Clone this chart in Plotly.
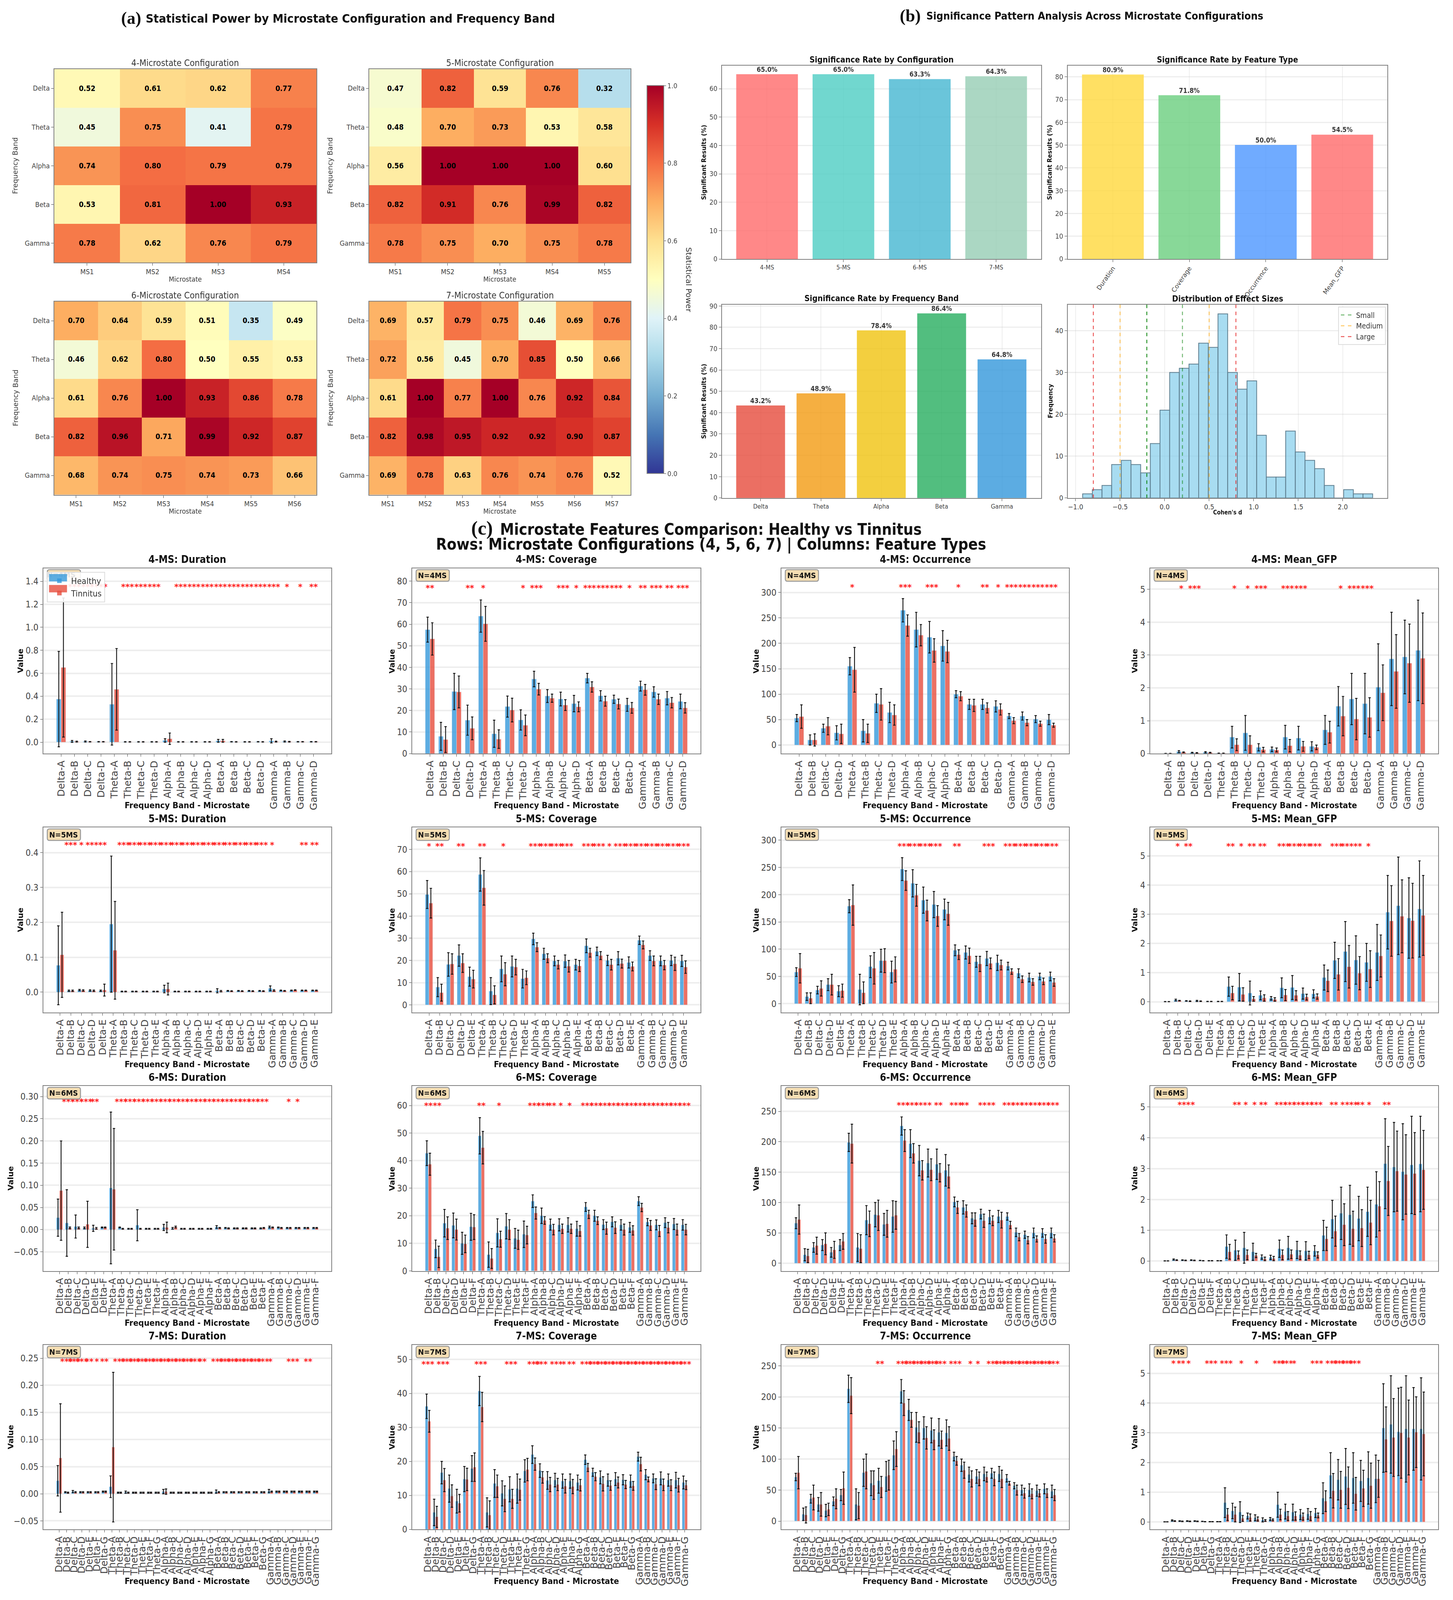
import plotly.graph_objects as go

W, H = 3719, 4398
BANDS = ["Delta", "Theta", "Alpha", "Beta", "Gamma"]
LETTERS = "ABCDEFG"

# ---------- (a) heatmaps ----------
power4 = [[.52,.61,.62,.77],[.45,.75,.41,.79],[.74,.80,.79,.79],[.53,.81,1.00,.93],[.78,.62,.76,.79]]
power5 = [[.47,.82,.59,.76,.32],[.48,.70,.73,.53,.58],[.56,1.00,1.00,1.00,.60],[.82,.91,.76,.99,.82],[.78,.75,.70,.75,.78]]
power6 = [[.70,.64,.59,.51,.35,.49],[.46,.62,.80,.50,.55,.53],[.61,.76,1.00,.93,.86,.78],[.82,.96,.71,.99,.92,.87],[.68,.74,.75,.74,.73,.66]]
power7 = [[.69,.57,.79,.75,.46,.69,.76],[.72,.56,.45,.70,.85,.50,.66],[.61,1.00,.77,1.00,.76,.92,.84],[.82,.98,.95,.92,.92,.90,.87],[.69,.78,.63,.76,.74,.76,.52]]

# ---------- (b) bars ----------
config_names = ["4-MS","5-MS","6-MS","7-MS"]
config_rates = [65.0,65.0,63.3,64.3]
feature_names = ["Duration","Coverage","Occurrence","Mean_GFP"]
feature_rates = [80.9,71.8,50.0,54.5]
band_rates = [43.2,48.9,78.4,86.4,64.8]
effect_bin_start = -0.92
effect_bin_width = 0.1085
effect_counts = [1,2,3,8,9,8,6,13,21,30,31,32,37,36,44,30,26,28,15,5,5,16,11,9,7,3,0,2,1,1]

# ---------- (c) 4-MS ----------
dur4_h = [.375,.007,.006,.004,.33,.003,.003,.003,.015,.003,.003,.003,.012,.004,.003,.004,.012,.006,.004,.004]
dur4_t = [.65,.005,.004,.004,.46,.003,.003,.003,.03,.003,.003,.003,.012,.003,.003,.003,.005,.004,.004,.004]
dur4_he = [.415,.008,.005,.002,.355,.002,.002,.002,.015,.002,.002,.002,.012,.002,.002,.002,.018,.005,.002,.002]
dur4_te = [.605,.004,.002,.002,.355,.002,.002,.002,.05,.002,.002,.002,.012,.002,.002,.002,.004,.003,.002,.002]
dur4_sig = [0,3,3,3,0,3,3,3,0,3,3,3,3,3,3,3,3,1,1,2]
cov4_h = [57.5,8,28.8,15.5,63.8,9.2,21.8,15.6,34.6,26.7,25.3,23.2,35,26.8,25.2,22.6,31.3,28.6,25.7,24.2]
cov4_t = [53.2,6.5,28.6,11.7,60.2,6.7,20.2,13.1,29.9,25.7,22.5,21.7,30.9,24.3,23,21.2,29.6,25.2,23.6,21.2]
cov4_he = [5.8,6.5,8.4,7,7.5,6.3,4.9,4.7,3.6,3,3.2,3.8,2.2,2.4,1.9,3,2.3,2.4,3.1,3.4]
cov4_te = [7.5,6,7.4,5.3,8.1,4.3,5.5,4.8,2.7,1.9,2.5,2.3,2.4,2.3,2.3,2.5,2.5,2.4,2.4,2.4]
cov4_sig = [2,0,0,2,1,0,0,1,3,0,3,1,3,3,3,1,2,3,2,3]
occ4_h = [53,10,33,24,155,28,82,64,265,227,212,195,100,80,80,76,57,57,51,50]
occ4_t = [56,10,37,22,148,23,80,59,235,216,186,184,96,78,73,70,48,44,42,39]
occ4_he = [7,10,8,14,17,22,18,20,23,34,31,30,7,10,10,11,5,8,7,10]
occ4_te = [23,12,17,19,44,18,31,20,21,21,23,22,9,12,10,11,6,6,5,4]
occ4_sig = [0,0,0,0,1,0,0,0,3,0,3,0,1,0,2,1,3,3,3,3]
gfp4_h = [.005,.06,.03,.04,.01,.5,.63,.19,.13,.5,.47,.22,.72,1.44,1.66,1.52,2.02,2.88,2.94,3.14]
gfp4_t = [.005,.04,.02,.03,.01,.27,.27,.12,.11,.24,.22,.19,.65,1.14,1.05,1.1,1.85,2.5,2.75,2.9]
gfp4_he = [.003,.03,.01,.02,.005,.33,.53,.11,.07,.36,.36,.14,.44,.6,.78,.92,1.32,1.42,1.12,1.53]
gfp4_te = [.003,.01,.01,.01,.005,.18,.27,.07,.06,.19,.15,.07,.33,.6,.63,.6,.85,1.12,1.19,1.38]
gfp4_sig = [0,1,3,0,0,1,1,3,0,3,3,0,0,1,3,3,0,0,0,0]

# ---------- (c) 5-MS ----------
dur5_h = [.077,.004,.006,.005,.004,.195,.002,.002,.002,.002,.009,.002,.002,.002,.002,.004,.004,.004,.004,.004,.011,.005,.005,.005,.005]
dur5_t = [.107,.004,.005,.004,.006,.12,.002,.002,.002,.002,.009,.002,.002,.002,.002,.003,.003,.003,.003,.003,.005,.004,.006,.005,.005]
dur5_he = [.113,.002,.002,.002,.002,.195,.001,.001,.001,.001,.011,.001,.001,.001,.001,.006,.001,.001,.001,.001,.007,.001,.001,.001,.001]
dur5_te = [.122,.002,.002,.002,.017,.14,.001,.001,.001,.001,.017,.001,.001,.001,.001,.002,.001,.001,.001,.001,.002,.001,.001,.001,.001]
dur5_sig = [0,3,1,3,2,0,3,3,3,3,3,3,3,3,3,3,3,3,3,3,1,0,0,2,2]
cov5_h = [49.7,8,18.2,22.2,12.7,58.7,6.2,16.2,17.3,11.8,29.7,23,19.8,19.7,18.1,26.6,24.1,20,21,19.1,29.1,22.2,19.8,20,19.8]
cov5_t = [45.8,5.5,18.4,18.8,11.6,52.7,4.5,13.8,17,12.2,26,21,18.1,17.4,17.5,23.5,22.2,18.1,18.6,17.3,27,19.8,17.9,18.5,17]
cov5_he = [6.3,4.3,5.3,4.8,4.3,7.5,6.1,5.8,4.7,4.2,2.6,2.5,2.2,2.8,2.4,3.1,1.9,2.3,3,2.5,1.9,2.2,2.2,2.3,2.5]
cov5_te = [6.7,3.8,4.6,4.2,4,7.8,4.1,5.2,3.5,3.1,2,2,1.9,2.6,2.5,2,1.8,2.4,2,2,1.8,2.2,2.1,3,2.8]
cov5_sig = [1,2,0,2,0,2,0,1,0,0,3,3,3,3,0,3,3,1,3,3,3,3,3,3,3]
occ5_h = [58,13,25,35,23,179,26,68,79,58,247,221,190,182,173,98,94,77,83,75,69,56,48,50,50]
occ5_t = [65,10,28,35,24,181,20,65,79,63,226,199,171,161,165,90,88,73,74,71,59,45,40,41,39]
occ5_he = [8,7,7,11,10,12,28,20,21,20,21,25,24,24,19,10,12,10,13,14,7,8,8,6,8]
occ5_te = [27,10,14,19,12,37,20,29,22,23,18,20,19,19,21,9,14,14,10,9,5,6,6,6,7]
occ5_sig = [0,0,0,0,0,0,0,0,0,0,3,3,3,3,0,2,0,0,3,0,3,3,3,3,3]
gfp5_h = [.005,.06,.03,.03,.01,.01,.52,.5,.3,.22,.12,.48,.49,.28,.27,.83,1.42,1.72,1.43,1.35,1.69,3.07,3.29,2.87,3.18]
gfp5_t = [.005,.04,.02,.02,.01,.01,.3,.25,.1,.13,.08,.23,.22,.16,.18,.72,.94,1.2,.98,1.12,1.57,2.77,2.93,2.78,2.96]
gfp5_he = [.003,.03,.01,.02,.005,.005,.33,.47,.41,.15,.06,.34,.41,.19,.14,.43,.62,1.03,.83,.65,.96,1.26,1.67,1.38,1.65]
gfp5_te = [.003,.01,.01,.01,.005,.005,.23,.23,.08,.11,.06,.19,.16,.1,.09,.37,.54,.73,.57,.63,.72,1.21,1.25,1.28,1.37]
gfp5_sig = [0,1,2,0,0,0,2,1,2,2,0,3,3,3,3,0,3,3,2,1,0,0,0,0,0]

# ---------- (c) 6-MS ----------
dur6_h = [.027,.015,.007,.004,.003,.005,.094,.005,.002,.01,.002,.002,.005,.003,.002,.002,.002,.002,.006,.004,.003,.003,.003,.003,.006,.005,.004,.004,.004,.004]
dur6_t = [.088,.004,.004,.012,.003,.005,.091,.002,.002,.002,.002,.002,.005,.006,.002,.002,.002,.002,.004,.003,.003,.003,.003,.004,.005,.004,.004,.004,.004,.004]
dur6_he = [.042,.075,.026,.002,.007,.001,.171,.001,.001,.035,.001,.001,.007,.002,.001,.001,.001,.001,.003,.001,.001,.001,.001,.001,.002,.001,.001,.001,.001,.001]
dur6_te = [.112,.002,.002,.052,.002,.001,.137,.001,.001,.001,.001,.001,.012,.002,.001,.001,.001,.001,.001,.001,.001,.001,.001,.001,.001,.001,.001,.001,.001,.001]
dur6_sig = [0,3,3,3,2,0,0,3,3,3,3,3,3,3,3,3,3,3,3,3,3,3,3,3,0,0,1,1,0,0]
cov6_h = [42.7,8,17.3,16.5,10,16,49,5.9,13.8,16.2,11.8,13.3,25.3,20,16.8,16.7,16.7,15.3,23.2,20,16.8,17.8,16.7,15.8,25.3,17.7,16.7,17.5,17,16.7]
cov6_t = [38.7,5.1,15.5,15,9.8,15.9,44.7,4.5,11.5,15,11.3,13,21,18.3,15,15.3,15.3,14.5,20.5,18.2,15.5,15.7,15,14.7,23,16.5,14.5,15.7,15,15]
cov6_he = [4.5,3.2,5,4.5,4,4.9,6.6,4.6,5.1,4.6,3.6,4.8,2.3,2.8,2,2.2,2.6,2.7,1.6,2,1.8,1.8,1.9,1.8,1.6,1.3,1.8,1.8,2,1.9]
cov6_te = [4,3.9,4.1,3.8,3.2,4.5,5.9,3.6,2.9,3.6,3.5,3.2,2.2,1.4,1.9,1.7,1.7,1.9,1.5,1.4,2.2,2.1,2,1.7,1.5,1.8,2,1.9,2,1.9]
cov6_sig = [2,2,0,0,0,0,2,0,1,0,0,0,3,3,2,1,1,0,3,3,3,3,3,3,3,3,3,3,3,3]
occ6_h = [66,14,26,30,18,30,199,26,71,80,64,77,226,197,169,165,163,153,101,92,74,81,76,77,77,51,47,50,50,50]
occ6_t = [72,12,29,32,22,36,197,24,65,79,65,79,202,181,153,154,149,143,92,86,72,70,70,71,63,43,38,40,40,41]
occ6_he = [9,10,8,9,8,9,15,23,24,20,18,26,15,23,25,23,25,26,8,11,9,8,11,10,6,7,6,8,7,8]
occ6_te = [24,11,14,18,14,13,32,23,21,25,22,23,18,16,16,18,15,19,10,10,11,11,8,13,6,6,6,5,7,6]
occ6_sig = [0,0,0,0,0,0,0,0,0,0,0,0,3,3,3,1,2,0,3,2,0,2,2,0,3,3,3,3,3,3]
gfp6_h = [.005,.05,.03,.03,.02,.01,.01,.47,.35,.43,.3,.13,.12,.4,.43,.36,.33,.33,.83,1.36,1.55,1.5,1.38,1.6,1.84,3.16,3.05,2.9,3.12,3.15]
gfp6_t = [.005,.03,.02,.02,.01,.01,.01,.3,.2,.2,.18,.07,.08,.2,.22,.19,.2,.2,.72,.97,1.18,1.05,1.07,1.25,1.78,2.6,2.92,2.81,2.84,2.96]
gfp6_he = [.003,.02,.01,.01,.005,.005,.005,.38,.33,.5,.28,.07,.07,.28,.37,.28,.3,.17,.49,.61,.85,.96,.72,.8,1.06,1.46,1.45,1.56,1.58,1.55]
gfp6_te = [.003,.01,.01,.01,.005,.005,.005,.24,.13,.16,.07,.06,.07,.16,.14,.14,.12,.1,.38,.49,.68,.57,.6,.72,.8,1.12,1.3,1.29,1.33,1.28]
gfp6_sig = [0,0,3,1,0,0,0,0,2,1,1,2,0,3,3,3,3,3,0,2,1,3,2,1,0,2,0,0,0,0]

# ---------- (c) 7-MS ----------
dur7_h = [.024,.003,.004,.003,.003,.003,.004,.013,.002,.003,.002,.002,.002,.002,.004,.002,.002,.002,.002,.002,.002,.004,.003,.003,.003,.003,.003,.003,.005,.004,.004,.004,.004,.004,.004]
dur7_t = [.066,.002,.003,.003,.003,.003,.004,.086,.002,.002,.002,.002,.002,.002,.004,.002,.002,.002,.002,.002,.002,.003,.003,.003,.003,.003,.003,.003,.004,.004,.004,.004,.004,.004,.004]
dur7_he = [.028,.001,.002,.001,.001,.001,.001,.02,.001,.002,.001,.001,.001,.001,.004,.001,.001,.001,.001,.001,.001,.003,.001,.001,.001,.001,.001,.001,.003,.001,.001,.001,.001,.001,.001]
dur7_te = [.1,.001,.001,.001,.001,.001,.001,.138,.001,.001,.001,.001,.001,.001,.005,.001,.001,.001,.001,.001,.001,.001,.001,.001,.001,.001,.001,.001,.001,.001,.001,.001,.001,.001,.001]
dur7_sig = [0,3,3,3,2,1,2,0,3,3,3,3,3,3,3,3,3,3,3,2,0,3,3,3,3,3,3,3,1,0,0,3,0,2,0]
cov7_h = [36.2,5,16.7,12,8.3,14.8,17.9,40.7,5,13.5,10.6,11.8,12,17.2,22,17.3,14.4,14.5,14.2,14.2,13.8,20.5,16.8,15.3,14.5,14.8,14.6,14.2,21.4,16.1,15,15,14.5,14.5,13.8]
cov7_t = [31.8,3.7,14.5,9.8,7.7,14.7,18.3,36,4.2,12.7,9,9,11.7,17.6,19.2,15.3,13.2,13.2,12.7,12.6,13,18.2,15.5,13.4,12.9,13.8,13.2,12.8,19.2,14.7,13.3,13.1,13,13,13]
cov7_he = [3.6,3.9,3.3,4,3.5,3.7,3.8,4.3,4.3,4.1,3.7,3.7,4.3,3.3,2.6,2,2.6,2,2.1,2.1,2.2,1.4,1.2,1.9,1.8,1.9,1.5,1.8,1.3,1.5,1.3,1.9,1.8,2.3,1.9]
cov7_te = [3.2,3.1,3.4,3.3,2.6,3.3,4.2,4.3,4.2,3.3,3.8,2.8,3.1,3.3,1.8,1.7,2.1,1.8,2,2.1,1.7,1.2,1.2,2.1,1.4,1.6,1.2,1.3,2,.7,1.6,1.7,1.6,2,1.3]
cov7_sig = [3,0,3,0,0,0,0,3,0,0,0,3,0,0,3,3,0,3,1,2,0,3,3,3,3,3,3,3,3,3,3,3,3,3,3]
occ7_h = [71,11,36,27,17,32,42,213,27,78,61,65,72,106,209,179,151,150,146,143,142,104,90,75,72,76,77,76,69,57,50,50,49,52,48]
occ7_t = [78,10,38,27,19,36,53,202,25,80,58,55,74,116,190,163,143,134,131,131,133,97,82,68,68,71,68,68,61,50,45,44,45,45,42]
occ7_he = [6,10,7,11,10,7,9,22,25,22,20,20,24,23,19,17,24,18,20,22,21,7,10,12,11,11,8,12,6,5,8,10,9,8,10]
occ7_te = [26,13,20,19,10,16,26,29,21,28,23,17,24,28,20,12,17,18,16,14,19,7,13,13,11,8,11,14,3,8,8,8,6,7,9]
occ7_sig = [0,0,0,0,0,0,0,0,0,0,0,2,0,0,3,3,3,3,3,3,0,3,0,1,1,0,3,3,3,3,3,3,3,3,3]
gfp7_h = [.005,.05,.03,.03,.03,.02,.01,.01,.65,.37,.33,.2,.14,.07,.1,.58,.35,.33,.25,.27,.3,.8,1.57,1.42,1.53,1.48,1.38,1.48,1.45,3.16,3.28,3.03,3.13,3.13,3.13]
gfp7_t = [.005,.03,.02,.02,.02,.01,.01,.01,.25,.25,.12,.15,.1,.05,.07,.25,.2,.2,.18,.2,.22,.7,1.05,1.08,1.15,.95,1.13,1.22,1.45,2.78,2.84,3,2.84,3.02,2.96]
gfp7_he = [.003,.02,.01,.01,.01,.005,.005,.005,.5,.26,.35,.1,.1,.07,.05,.42,.25,.27,.17,.18,.15,.52,.76,.68,.94,.85,.69,.88,.8,1.49,1.64,1.47,1.79,1.39,1.72]
gfp7_te = [.003,.01,.01,.01,.01,.005,.005,.005,.2,.25,.1,.12,.07,.03,.03,.18,.15,.14,.12,.15,.08,.35,.58,.62,.7,.55,.61,.76,.62,1.09,1.31,1.53,1.26,1.19,1.41]
gfp7_sig = [0,1,2,1,0,0,3,0,3,0,1,0,1,0,0,3,3,1,0,0,3,0,3,3,3,3,0,0,0,0,0,0,0,0,0]

COND = "DejaVu Sans Condensed, DejaVu Sans"
WIDE = "DejaVu Sans"
SERIF = "Liberation Serif"
TICK = "#444444"
FRAME = "#808080"
GRID = "rgba(200,200,200,0.3)"

fig = go.Figure()
layout = {}
notes = []
boxes = []
ax_n = [0]


def note(px, py, text, size, family=COND, bold=False, angle=0, color="#222222", anchor="center", **kw):
    notes.append(dict(xref="paper", yref="paper", x=px / W, y=1 - py / H, showarrow=False,
                      text=f"<b>{text}</b>" if bold else text, textangle=angle,
                      font=dict(family=family, size=size, color=color),
                      xanchor=anchor, yanchor="middle", **kw))


def round_box(x0, y0, x1, y1, r=6):
    def X(v):
        return v / W

    def Y(v):
        return 1 - v / H
    path = (f"M {X(x0 + r)} {Y(y0)} L {X(x1 - r)} {Y(y0)} Q {X(x1)} {Y(y0)} {X(x1)} {Y(y0 + r)} "
            f"L {X(x1)} {Y(y1 - r)} Q {X(x1)} {Y(y1)} {X(x1 - r)} {Y(y1)} L {X(x0 + r)} {Y(y1)} "
            f"Q {X(x0)} {Y(y1)} {X(x0)} {Y(y1 - r)} L {X(x0)} {Y(y0 + r)} Q {X(x0)} {Y(y0)} {X(x0 + r)} {Y(y0)} Z")
    boxes.append(dict(type="path", xref="paper", yref="paper", path=path, fillcolor="#f5deb3",
                      line=dict(color="#999999", width=2.5), layer="above"))


def new_axes(x0, y0, x1, y1):
    ax_n[0] += 1
    i = ax_n[0]
    sfx = "" if i == 1 else str(i)
    layout["xaxis" + sfx] = dict(domain=[x0 / W, x1 / W], anchor="y" + sfx, showline=True, mirror=True,
                                 linecolor=FRAME, linewidth=2, ticks="outside", ticklen=6, tickcolor=TICK,
                                 showgrid=False, zeroline=False)
    layout["yaxis" + sfx] = dict(domain=[1 - y1 / H, 1 - y0 / H], anchor="x" + sfx, showline=True, mirror=True,
                                 linecolor=FRAME, linewidth=2, ticks="outside", ticklen=6, tickcolor=TICK,
                                 showgrid=False, zeroline=False)
    return "x" + sfx, "y" + sfx, "xaxis" + sfx, "yaxis" + sfx


# ---------- heatmaps ----------
RDYLBU_R = ["#313695", "#4575b4", "#74add1", "#abd9e9", "#e0f3f8", "#ffffbf", "#fee090", "#fdae61", "#f46d43", "#d73027", "#a50026"]
CS = [[i / 10, c] for i, c in enumerate(RDYLBU_R)]
heat_boxes = [(power4, 139, 183, 810, 718, 4), (power5, 945, 183, 1614, 718, 5),
              (power6, 139, 825, 810, 1359, 6), (power7, 945, 825, 1614, 1359, 7)]
for k, (z, x0, y0, x1, y1, n) in enumerate(heat_boxes):
    xa, ya, xn, yn = new_axes(x0, y0, x1, y1)
    cols = [f"MS{j+1}" for j in range(n)]
    kw = dict(showscale=False)
    if k == 0:
        kw = dict(showscale=True, colorbar=dict(x=1656 / W, xanchor="left", xpad=0, ypad=0, thickness=43,
                                                thicknessmode="pixels", lenmode="fraction", len=(1300 - 229) / H,
                                                y=1 - 229 / H, yanchor="top", tickvals=[0, .2, .4, .6, .8, 1],
                                                ticktext=["0.0", "0.2", "0.4", "0.6", "0.8", "1.0"],
                                                tickfont=dict(family=COND, size=18, color=TICK),
                                                outlinecolor=FRAME, outlinewidth=2, ticks="outside", ticklen=5))
    fig.add_trace(go.Heatmap(z=z, x=cols, y=BANDS, xaxis=xa, yaxis=ya, zmin=0, zmax=1, colorscale=CS,
                             texttemplate="<b>%{z:.2f}</b>", textfont=dict(family=COND, size=19, color="black"),
                             hoverinfo="skip", **kw))
    layout[xn].update(tickfont=dict(family=COND, size=18, color=TICK))
    layout[yn].update(tickfont=dict(family=COND, size=18, color=TICK), autorange="reversed")
    note((x0 + x1) / 2, y0 - 17, f"{n}-Microstate Configuration", 23, color="#333333")
    note((x0 + x1) / 2, y1 + 45, "Microstate", 18, color="#333333")
    note(x0 - 100, (y0 + y1) / 2, "Frequency Band", 18, family=WIDE, angle=-90, color="#333333")
note(1763, 765, "Statistical Power", 20, family=WIDE, angle=90, color="#333333")


# ---------- (b) ----------
def bar_panel(names, vals, colors, box, title, ymax, xr, angle=0):
    x0, y0, x1, y1 = box
    xa, ya, xn, yn = new_axes(x0, y0, x1, y1)
    fig.add_trace(go.Bar(x=names, y=vals, xaxis=xa, yaxis=ya, width=0.8, marker_color=colors, opacity=0.8,
                         marker_line_color=colors, marker_line_width=1.5,
                         text=[f"<b>{v:.1f}%</b>" for v in vals], textposition="outside", cliponaxis=False,
                         textfont=dict(family=COND, size=17, color="black"), showlegend=False, hoverinfo="skip"))
    layout[xn].update(range=xr, showgrid=True, gridcolor=GRID, gridwidth=2, tickangle=angle,
                      tickfont=dict(family=COND if angle == 0 else WIDE, size=16, color=TICK))
    layout[yn].update(range=[0, ymax], showgrid=True, gridcolor=GRID, gridwidth=3,
                      tickfont=dict(family=COND, size=18, color=TICK))
    note((x0 + x1) / 2, y0 - 17, title, 21, bold=True, color="#111111")
    note(x0 - 46, (y0 + y1) / 2, "Significant Results (%)", 15, family=WIDE, bold=True, angle=-90, color="#111111")


bar_panel(config_names, config_rates, ["#FF6B6B", "#4ECDC4", "#45B7D1", "#96CEB4"], (1848, 174, 2665, 708),
          "Significance Rate by Configuration", 68.1, [-0.59, 3.59])
bar_panel(feature_names, feature_rates, ["#FFD93D", "#6BCF7F", "#4D96FF", "#FF6B6B"], (2733, 174, 3551, 708),
          "Significance Rate by Feature Type", 84.9, [-0.59, 3.59], angle=-55)
bar_panel(BANDS, band_rates, ["#E74C3C", "#F39C12", "#F1C40F", "#27AE60", "#3498DB"], (1848, 834, 2665, 1368),
          "Significance Rate by Frequency Band", 90.6, [-0.64, 4.65])

xa, ya, xn, yn = new_axes(2733, 834, 3551, 1368)
hist_x = [effect_bin_start + effect_bin_width * (i + 0.5) for i in range(len(effect_counts))]
fig.add_trace(go.Bar(x=hist_x, y=effect_counts, xaxis=xa, yaxis=ya, width=effect_bin_width,
                     marker_color="rgba(135,206,235,0.72)", marker_line_color="#5f7f90", marker_line_width=2,
                     showlegend=False, hoverinfo="skip"))
HIST_TOP = 46.2
for v, name, col in [(-.8, None, "rgba(230,40,40,.75)"), (-.5, None, "rgba(255,165,0,.6)"), (-.2, None, "rgba(0,128,0,.8)"),
                     (.2, "Small", "rgba(0,128,0,.55)"), (.5, "Medium", "rgba(255,165,0,.6)"), (.8, "Large", "rgba(230,40,40,.75)")]:
    fig.add_trace(go.Scatter(x=[v, v], y=[0, HIST_TOP], mode="lines", xaxis=xa, yaxis=ya, name=name or "",
                             showlegend=name is not None, legend="legend2",
                             line=dict(color=col, width=2.5, dash="dash"), hoverinfo="skip"))
layout[xn].update(range=[-1.087, 2.5], showgrid=True, gridcolor=GRID, gridwidth=2, tickvals=[-1, -.5, 0, .5, 1, 1.5, 2],
                  ticktext=["\u22121.0", "\u22120.5", "0.0", "0.5", "1.0", "1.5", "2.0"],
                  tickfont=dict(family=COND, size=18, color=TICK))
layout[yn].update(range=[0, HIST_TOP], showgrid=True, gridcolor=GRID, gridwidth=3, tickvals=[0, 10, 20, 30, 40],
                  tickfont=dict(family=COND, size=18, color=TICK))
note(3142, 818, "Distribution of Effect Sizes", 21, bold=True, color="#111111")
note(3142, 1408, "Cohen's d", 15, bold=True, color="#111111")
note(2689, 1100, "Frequency", 15, family=WIDE, bold=True, angle=-90, color="#111111")

# ---------- (c) ----------
COL_X = [(111, 848), (1055, 1793), (2000, 2736), (2944, 3681)]
ROW_Y = [(1562, 2074), (2278, 2789), (2992, 3503), (3707, 4217)]
VALUE_X = {0: 52, 1: 1003, 2: 1935, 3: 2904}
FEATS = ["Duration", "Coverage", "Occurrence", "Mean_GFP"]
panels = [
    (4, 0, (dur4_h, dur4_t, dur4_he, dur4_te, dur4_sig), (-.099, 1.514), 1.365, [0, .2, .4, .6, .8, 1, 1.2, 1.4], "%.1f"),
    (4, 1, (cov4_h, cov4_t, cov4_he, cov4_te, cov4_sig), (0, 86), 77.5, list(range(0, 90, 10)), "%d"),
    (4, 2, (occ4_h, occ4_t, occ4_he, occ4_te, occ4_sig), (-16.8, 347.7), 313.5, list(range(0, 350, 50)), "%d"),
    (4, 3, (gfp4_h, gfp4_t, gfp4_he, gfp4_te, gfp4_sig), (0, 5.64), 5.07, [0, 1, 2, 3, 4, 5], "%d"),
    (5, 0, (dur5_h, dur5_t, dur5_he, dur5_te, dur5_sig), (-.058, .472), .4257, [0, .1, .2, .3, .4], "%.1f"),
    (5, 1, (cov5_h, cov5_t, cov5_he, cov5_te, cov5_sig), (-3.4, 79.9), 72.2, list(range(0, 80, 10)), "%d"),
    (5, 2, (occ5_h, occ5_t, occ5_he, occ5_te, occ5_sig), (-16, 323.5), 292, list(range(0, 350, 50)), "%d"),
    (5, 3, (gfp5_h, gfp5_t, gfp5_he, gfp5_te, gfp5_sig), (-.365, 5.975), 5.39, [0, 1, 2, 3, 4, 5], "%d"),
    (6, 0, (dur6_h, dur6_t, dur6_he, dur6_te, dur6_sig), (-.093, .324), .2917, [-.05, 0, .05, .1, .15, .2, .25, .3], "%.2f"),
    (6, 1, (cov6_h, cov6_t, cov6_he, cov6_te, cov6_sig), (0, 67.1), 60.5, list(range(0, 70, 10)), "%d"),
    (6, 2, (occ6_h, occ6_t, occ6_he, occ6_te, occ6_sig), (-12.6, 292), 263, list(range(0, 300, 50)), "%d"),
    (6, 3, (gfp6_h, gfp6_t, gfp6_he, gfp6_te, gfp6_sig), (-.32, 5.685), 5.12, [0, 1, 2, 3, 4, 5], "%d"),
    (7, 0, (dur7_h, dur7_t, dur7_he, dur7_te, dur7_sig), (-.0657, .2748), .2466, [-.05, 0, .05, .1, .15, .2, .25], "%.2f"),
    (7, 1, (cov7_h, cov7_t, cov7_he, cov7_te, cov7_sig), (0, 54.3), 49, list(range(0, 60, 10)), "%d"),
    (7, 2, (occ7_h, occ7_t, occ7_he, occ7_te, occ7_sig), (-13.3, 283.9), 256, list(range(0, 300, 50)), "%d"),
    (7, 3, (gfp7_h, gfp7_t, gfp7_he, gfp7_te, gfp7_sig), (-.25, 5.96), 5.38, [0, 1, 2, 3, 4, 5], "%d"),
]
BLUE, RED = "rgba(52,152,219,0.8)", "rgba(231,76,60,0.8)"
for idx, (n, f, (h, t, he, te, sig), yr, star, yt, fmt) in enumerate(panels):
    r, c = idx // 4, idx % 4
    x0, x1 = COL_X[c]
    y0, y1 = ROW_Y[r]
    xa, ya, xn, yn = new_axes(x0, y0, x1, y1)
    cats = [f"{b}-{LETTERS[j]}" for b in BANDS for j in range(n)]
    first = idx == 0
    ew = 2.2
    fig.add_trace(go.Bar(x=cats, y=h, xaxis=xa, yaxis=ya, name="Healthy", legend="legend", showlegend=first,
                         offsetgroup="h", marker_color=BLUE, hoverinfo="skip",
                         error_y=dict(type="data", array=he, color="#111111", thickness=ew, width=3)))
    fig.add_trace(go.Bar(x=cats, y=t, xaxis=xa, yaxis=ya, name="Tinnitus", legend="legend", showlegend=first,
                         offsetgroup="t", marker_color=RED, hoverinfo="skip",
                         error_y=dict(type="data", array=te, color="#111111", thickness=ew, width=3)))
    sx = [cats[i] for i in range(len(cats)) if sig[i]]
    # the glyph sits high in its line, so the text anchor is set a few pixels lower
    star_y = star - (yr[1] - yr[0]) * 7 / (y1 - y0)
    fig.add_trace(go.Scatter(x=sx, y=[star_y] * len(sx), mode="text", xaxis=xa, yaxis=ya, showlegend=False,
                             text=["<b>" + "*" * sig[i] + "</b>" for i in range(len(cats)) if sig[i]],
                             textfont=dict(family=WIDE, size=21, color="#ff2020"), textposition="middle center",
                             cliponaxis=False, hoverinfo="skip"))
    m = .05 * (len(cats) - .3) + .35
    layout[xn].update(type="category", categoryorder="array", categoryarray=cats, tickmode="array", tickvals=cats,
                      ticktext=cats, range=[-m, len(cats) - 1 + m], tickangle=-90,
                      tickfont=dict(family=WIDE, size=25, color=TICK))
    layout[yn].update(range=list(yr), showgrid=True, gridcolor=GRID, gridwidth=4, tickmode="array", tickvals=yt,
                      ticktext=[(fmt % v).replace("-", "\u2212") for v in yt],
                      tickfont=dict(family=COND, size=23, color=TICK))
    note((x0 + x1) / 2, y0 - 24, f"{n}-MS: {FEATS[f]}", 26, bold=True, color="#111111")
    note((x0 + x1) / 2, y1 + 143, "Frequency Band - Microstate", 22, bold=True, color="#111111")
    vx = 27 if (c == 0 and r >= 2) else VALUE_X[c]
    note(vx, (y0 + y1) / 2, "Value", 20, family=WIDE, bold=True, angle=-90, color="#111111")
    bx0 = x0 + 10
    by0, by1 = y0 + 4, y0 + 36
    if first:
        round_box(bx0, by0, bx0 + 85, by1)
        boxes[-1]["layer"] = "below"
        ylab = yr[1] - (yr[1] - yr[0]) * 20 / (y1 - y0)
        fig.add_trace(go.Scatter(x=[cats[0]], y=[ylab], mode="text", text=[f"<b>N={n}MS</b>"], xaxis=xa, yaxis=ya,
                                 showlegend=False, textfont=dict(family=COND, size=20, color="#111111"),
                                 hoverinfo="skip"))
    else:
        round_box(bx0, by0, bx0 + 85, by1)
        note(bx0 + 42, (by0 + by1) / 2, f"N={n}MS", 20, bold=True, color="#111111")

note(148, 1588, " ", 8, bgcolor=BLUE, width=43, height=16)
note(148, 1618, " ", 8, bgcolor=RED, width=43, height=16)

# ---------- section titles ----------
note(335, 43, "(a)", 44, family=SERIF, bold=True, color="#111111")
note(371, 43, "Statistical Power by Microstate Configuration and Frequency Band", 31, bold=True, color="#111111", anchor="left")
note(2330, 36, "(b)", 44, family=SERIF, bold=True, color="#111111")
note(2369, 36, "Significance Pattern Analysis Across Microstate Configurations", 27, bold=True, color="#111111", anchor="left")
note(1234, 1451, "(c)", 50, family=SERIF, bold=True, color="#111111")
note(1278, 1454, "Microstate Features Comparison: Healthy vs Tinnitus", 40, bold=True, color="#111111", anchor="left")
note(1820, 1497, "Rows: Microstate Configurations (4, 5, 6, 7) | Columns: Feature Types", 40, bold=True, color="#111111")

fig.update_layout(
    width=W, height=H, margin=dict(l=0, r=0, t=0, b=0), paper_bgcolor="white", plot_bgcolor="white",
    autosize=False, barmode="group", bargap=0.3, bargroupgap=0, annotations=notes, shapes=boxes,
    legend=dict(x=120 / W, y=1 - 1572 / H, xanchor="left", yanchor="top", bgcolor="rgba(255,255,255,0.88)",
                bordercolor="#dddddd", borderwidth=2, font=dict(family=COND, size=22, color="#333333"),
                itemwidth=50, tracegroupgap=4),
    legend2=dict(x=3425 / W, y=1 - 840 / H, xanchor="left", yanchor="top", bgcolor="rgba(255,255,255,0.88)",
                 bordercolor="#dddddd", borderwidth=2, font=dict(family=COND, size=19, color="#333333"),
                 itemwidth=34),
    **layout,
)
# The window can be shorter than the figure (the browser caps its height), so the figure is
# fitted to what the window really shows and the last row stays in the picture.
fit = ("document.body.style.margin='0';document.documentElement.style.margin='0';"
       "document.documentElement.style.overflow='hidden';"
       "var gd=document.getElementById('{plot_id}');"
       "if(window.innerHeight<" + str(H) + "){gd.style.height=window.innerHeight+'px';"
       "Plotly.relayout(gd,{height:window.innerHeight});}")
fig.write_html("out.html", post_script=fit, config={"displayModeBar": False},
               default_width=f"{W}px", default_height=f"{H}px")
